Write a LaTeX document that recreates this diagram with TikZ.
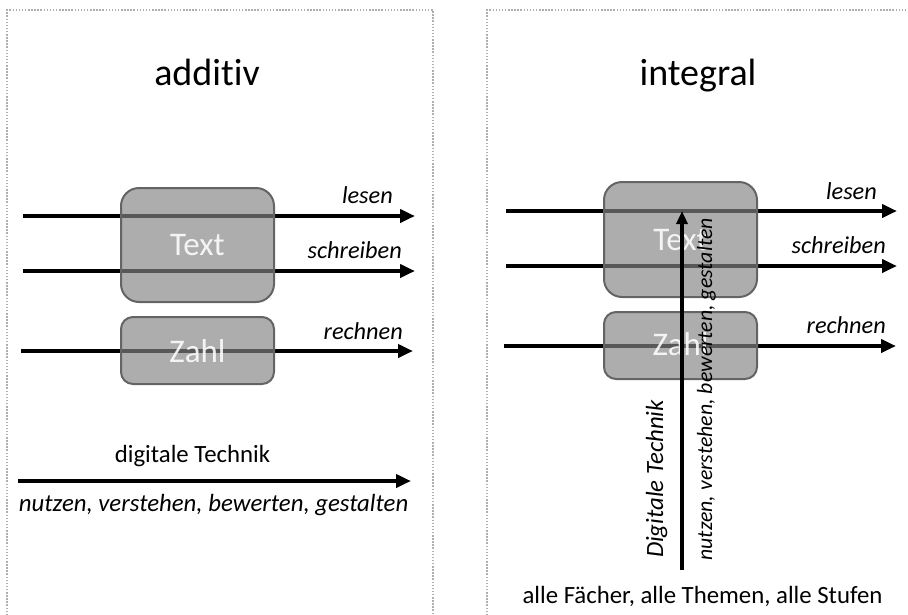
\documentclass[tikz,border=0pt]{standalone}
\usepackage{fontspec}
\setmainfont{Carlito}[Ligatures=NoCommon]
\usetikzlibrary{arrows.meta}
\definecolor{boxfill}{RGB}{132,132,132}
\definecolor{boxline}{RGB}{100,100,100}
\definecolor{frame}{RGB}{175,175,175}
\tikzset{
  flow/.style={line width=4pt,-{Triangle[length=15pt,width=13pt]}},
  upflow/.style={line width=4pt,-{Triangle[length=13pt,width=11pt]}},
  panel/.style={draw=frame,line width=1.5pt,dash pattern=on 1.5pt off 1.6pt},
  boxbig/.style={draw=boxline,line width=2pt,fill=boxfill,fill opacity=0.667,rounded corners=18pt},
  boxsmall/.style={draw=boxline,line width=2pt,fill=boxfill,fill opacity=0.667,rounded corners=12pt},
  boxtext/.style={inner sep=0pt,text=white,text opacity=0.88,font=\fontsize{33}{33}\selectfont},
  title/.style={inner sep=0pt,font=\fontsize{38}{38}\selectfont},
  lbl/.style={inner sep=0pt,font=\itshape\fontsize{24.3}{24.3}\selectfont},
  plain/.style={inner sep=0pt,font=\fontsize{24.8}{24.8}\selectfont},
}
\begin{document}
\begin{tikzpicture}[x=1pt,y=-1pt]
\useasboundingbox (0,0) rectangle (908,614);
\clip (0,0) rectangle (908,614);
% panels
\draw[panel] (7,640) -- (7,10) -- (433,10) -- (433,640);
\draw[panel] (487,640) -- (487,10) -- (940,10);
% ---------- left: additiv
\node[title,anchor=base] (tA) at (207,85) {additiv};
\coordinate (l1s) at (23,216);  \coordinate (l1e) at (415,216);
\coordinate (l2s) at (23,271);  \coordinate (l2e) at (415,271);
\coordinate (l3s) at (21,351);  \coordinate (l3e) at (413,351);
\coordinate (l4s) at (18,481);  \coordinate (l4e) at (411,481);
\draw[flow] (l1s) -- (l1e);
\draw[flow] (l2s) -- (l2e);
\draw[flow] (l3s) -- (l3e);
\draw[flow] (l4s) -- (l4e);
\path[boxbig] (121,188) rectangle (274,302);
\path[boxsmall] (121,317) rectangle (274,384);
\node[boxtext,anchor=base] (txA) at (197.5,255) {Text};
\node[boxtext,anchor=base] (zaA) at (197.5,362) {Zahl};
\node[lbl,anchor=base east] (leA) at (393,203) {lesen};
\node[lbl,anchor=base east] (scA) at (402,258) {schreiben};
\node[lbl,anchor=base east] (reA) at (403,339) {rechnen};
\node[plain,anchor=base] (dtA) at (192.5,462) {digitale Technik};
\node[lbl,font=\itshape\fontsize{24.8}{24.8}\selectfont,anchor=base] (nuA) at (213.5,511) {nutzen, verstehen, bewerten, gestalten};
% ---------- right: integral
\node[title,anchor=base] (tB) at (698,85) {integral};
\coordinate (r1s) at (506,211);  \coordinate (r1e) at (897,211);
\coordinate (r2s) at (506,266);  \coordinate (r2e) at (897,266);
\coordinate (r3s) at (504,346);  \coordinate (r3e) at (896,346);
\draw[flow] (r1s) -- (r1e);
\draw[flow] (r2s) -- (r2e);
\draw[flow] (r3s) -- (r3e);
\path[boxbig] (604,182) rectangle (757,297);
\path[boxsmall] (604,312) rectangle (757,379);
\node[boxtext,anchor=base] (txB) at (680.5,250) {Text};
\node[boxtext,anchor=base] (zaB) at (680.5,355) {Zahl};
\node[lbl,anchor=base east] (leB) at (877,199) {lesen};
\node[lbl,anchor=base east] (scB) at (886,253) {schreiben};
\node[lbl,anchor=base east] (reB) at (886,333) {rechnen};
\coordinate (vb) at (682,570);
\coordinate (vt) at (682,211);
\draw[upflow] (vb) -- (vt);
\node[lbl,font=\itshape\fontsize{24.8}{24.8}\selectfont,rotate=90,anchor=base] (dtB) at (663,479) {Digitale Technik};
\node[lbl,font=\itshape\fontsize{21.8}{21.8}\selectfont,rotate=90,anchor=base] (nuB) at (712,389.5) {nutzen, verstehen, bewerten, gestalten};
\node[plain,anchor=base] (al) at (702.5,603) {alle Fächer, alle Themen, alle Stufen};
\end{tikzpicture}
\end{document}
